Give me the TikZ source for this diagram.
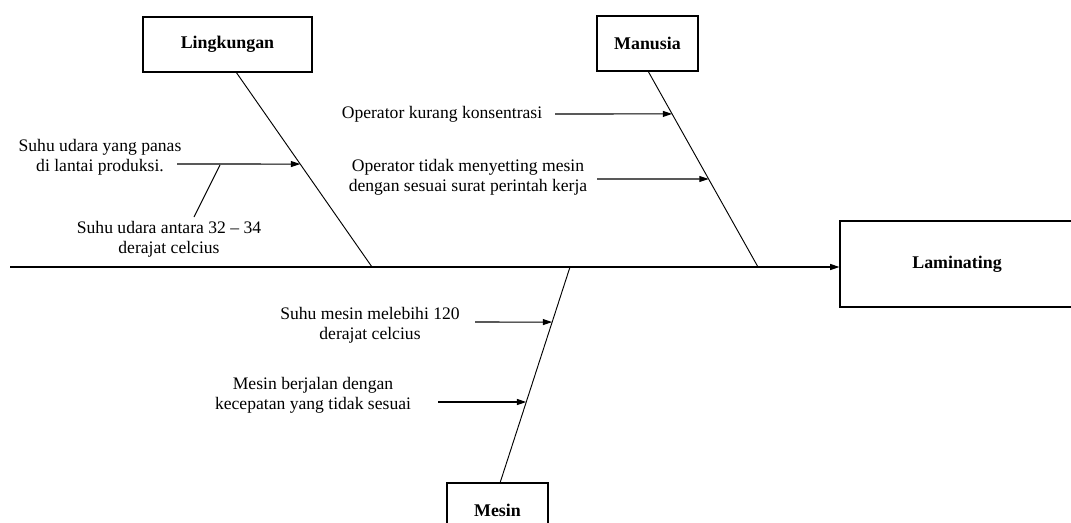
\documentclass[tikz,border=0pt]{standalone}
\usepackage{fontspec}
\setmainfont{Liberation Serif}
\usetikzlibrary{arrows.meta,calc}

\tikzset{
  bone/.style={line width=0.7pt},
  spine/.style={line width=0.9pt,-{Triangle[length=7pt,width=4.5pt]}},
  cause/.style={line width=0.8pt,-{Triangle[length=7pt,width=4.5pt]}},
  catbox/.style={draw,line width=0.8pt,inner sep=0pt,font=\fontsize{13.4}{15}\selectfont\bfseries},
  causetext/.style={align=center,inner sep=0pt,font=\fontsize{13.2}{14.8}\selectfont}
}

\begin{document}
\begin{tikzpicture}[x=0.75pt,y=-0.75pt]
\useasboundingbox (0,0) rectangle (1071,522);

% category boxes
\node[catbox,minimum width=126.75pt,minimum height=41.25pt] (Ling) at (227.5,44.5) {Lingkungan};
\node[catbox,minimum width=75.75pt,minimum height=41.25pt] (Manu) at (647.5,43.5) {Manusia};
\node[catbox,minimum width=75.75pt,minimum height=41.25pt] (Mesin) at (497.5,510.5) {Mesin};
\node[catbox,minimum width=175.5pt,minimum height=64.5pt] (Lam) at (957,264) {Laminating};

% spine
\coordinate (SpineL) at (10,267);
\draw[spine] (SpineL) -- (Lam.west |- SpineL);

% bones
\coordinate (LingT) at (236,72);
\coordinate (LingB) at (372,267);
\coordinate (ManuT) at (648,71);
\coordinate (ManuB) at (758,267);
\coordinate (MesinT) at (500,483);
\coordinate (MesinB) at (570,267);
\draw[bone] (LingT) -- (LingB);
\draw[bone] (ManuT) -- (ManuB);
\draw[bone] (MesinT) -- (MesinB);

% causes
\node[causetext] (Panas) at (100,157) {Suhu udara yang panas\\di lantai produksi.};
\node[causetext] (Antara) at (169,239) {Suhu udara antara 32 – 34\\derajat celcius};
\node[causetext] (Konsen) at (442,114) {Operator kurang konsentrasi};
\node[causetext] (Setting) at (468,177) {Operator tidak menyetting mesin\\dengan sesuai surat perintah kerja};
\node[causetext] (Suhu) at (370,325) {Suhu mesin melebihi 120\\derajat celcius};
\node[causetext] (Jalan) at (313,395) {Mesin berjalan dengan\\kecepatan yang tidak sesuai};

\coordinate (PanasS) at (177,164);
\coordinate (PanasE) at ($(LingT)!0.472!(LingB)$);
\draw[cause] (PanasS) -- (PanasE);
\coordinate (AntaraS) at (194,217);
\coordinate (AntaraE) at (220,165);
\draw[bone] (AntaraS) -- (AntaraE);

\coordinate (KonsenS) at (555,114);
\coordinate (KonsenE) at ($(ManuT)!0.219!(ManuB)$);
\draw[cause] (KonsenS) -- (KonsenE);
\coordinate (SettingS) at (597,179);
\coordinate (SettingE) at ($(ManuT)!0.551!(ManuB)$);
\draw[cause] (SettingS) -- (SettingE);

\coordinate (SuhuS) at (475,322);
\coordinate (SuhuE) at ($(MesinB)!0.255!(MesinT)$);
\draw[cause] (SuhuS) -- (SuhuE);
\coordinate (JalanS) at (438,402);
\coordinate (JalanE) at ($(MesinB)!0.625!(MesinT)$);
\draw[cause] (JalanS) -- (JalanE);

\end{tikzpicture}
\end{document}
